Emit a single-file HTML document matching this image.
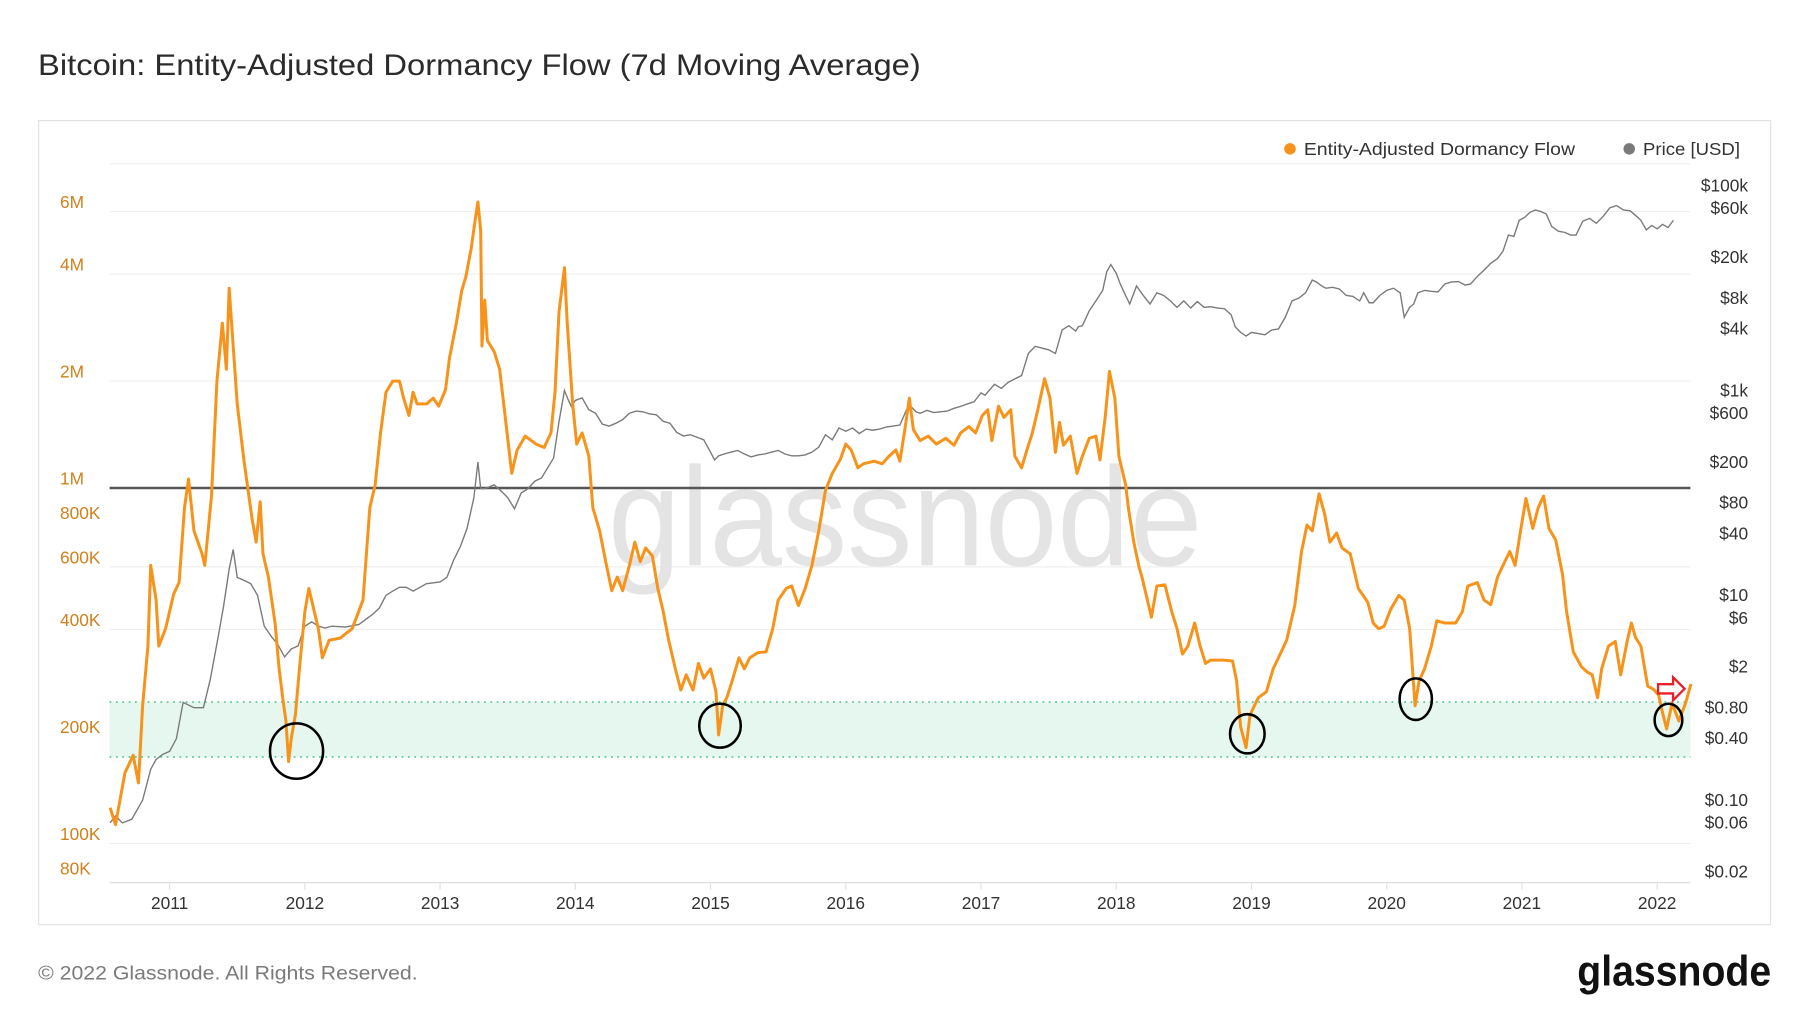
<!DOCTYPE html>
<html><head><meta charset="utf-8">
<style>
html,body{margin:0;padding:0;background:#fff;}
svg{display:block;font-family:"Liberation Sans",sans-serif;}
</style></head>
<body>
<svg id="chart" width="1800" height="1013" viewBox="0 0 1560 878" preserveAspectRatio="none" xmlns="http://www.w3.org/2000/svg">
<text x="33" y="65" font-size="25.5" fill="#2b2b2b" font-weight="500" textLength="765" lengthAdjust="spacingAndGlyphs">Bitcoin: Entity-Adjusted Dormancy Flow (7d Moving Average)</text>
<rect x="33.5" y="104.5" width="1501" height="697" fill="#fff" stroke="#e2e2e2"/>
<g id="grid"></g>
<rect id="band" fill="#e6f7ef"/>
<g id="bandlines"></g>
<text x="527" y="490" font-size="122" fill="#e4e4e4" textLength="515" lengthAdjust="spacingAndGlyphs">glassnode</text>
<line id="mline" stroke="#555" stroke-width="2.2"/>
<g id="xlabels"></g><g id="ylabels"></g><g id="rlabels"></g>
<path id="priceLine" fill="none" stroke="#7a7a7a" stroke-width="1.2"/>
<path id="flowLine" fill="none" stroke="#f7931a" stroke-width="2.6" stroke-linejoin="round"/>
<g fill="none" stroke="#000" stroke-width="2.2">
<ellipse cx="257" cy="651" rx="23" ry="24"/>
<ellipse cx="624" cy="629" rx="18" ry="19"/>
<ellipse cx="1081" cy="636" rx="15" ry="17"/>
<ellipse cx="1227" cy="606" rx="14" ry="18"/>
<ellipse cx="1446" cy="624" rx="12" ry="14"/>
</g>
<path d="M1437 593 L1450 593 L1450 587 L1460 597 L1450 607 L1450 601 L1437 601 Z" fill="none" stroke="#e8202a" stroke-width="2"/>
<g font-size="15" fill="#333">
<circle cx="1118" cy="129" r="5" fill="#f7931a"/>
<text x="1130" y="134.5" textLength="235" lengthAdjust="spacingAndGlyphs">Entity-Adjusted Dormancy Flow</text>
<circle cx="1412" cy="129" r="5" fill="#7a7a7a"/>
<text x="1424" y="134.5" textLength="84" lengthAdjust="spacingAndGlyphs">Price [USD]</text>
</g>
<text x="33" y="849" font-size="17" fill="#7a7a7a" textLength="329" lengthAdjust="spacingAndGlyphs">© 2022 Glassnode. All Rights Reserved.</text>
<text x="1367" y="854" font-size="37" fill="#111" font-weight="bold" textLength="168" lengthAdjust="spacingAndGlyphs">glassnode</text>
</svg>
<script>
const flowDates=[2010.56,2010.60,2010.67,2010.73,2010.77,2010.80,2010.84,2010.86,2010.90,2010.92,2010.97,2011.03,2011.07,2011.11,2011.14,2011.18,2011.24,2011.26,2011.31,2011.35,2011.39,2011.42,2011.44,2011.47,2011.50,2011.55,2011.61,2011.64,2011.67,2011.69,2011.73,2011.78,2011.81,2011.84,2011.86,2011.88,2011.90,2011.93,2011.96,2012.00,2012.03,2012.07,2012.10,2012.13,2012.18,2012.26,2012.35,2012.43,2012.48,2012.52,2012.56,2012.60,2012.65,2012.70,2012.73,2012.77,2012.80,2012.83,2012.90,2012.95,2012.99,2013.04,2013.07,2013.12,2013.16,2013.19,2013.23,2013.26,2013.28,2013.30,2013.31,2013.33,2013.35,2013.40,2013.44,2013.48,2013.53,2013.57,2013.63,2013.71,2013.77,2013.82,2013.85,2013.88,2013.92,2013.94,2013.98,2014.01,2014.05,2014.10,2014.13,2014.18,2014.23,2014.27,2014.31,2014.35,2014.40,2014.44,2014.48,2014.52,2014.57,2014.61,2014.65,2014.69,2014.74,2014.78,2014.82,2014.87,2014.91,2014.95,2015.00,2015.04,2015.06,2015.09,2015.12,2015.16,2015.21,2015.25,2015.29,2015.35,2015.41,2015.46,2015.50,2015.56,2015.60,2015.65,2015.70,2015.75,2015.80,2015.85,2015.90,2015.96,2016.00,2016.04,2016.09,2016.13,2016.21,2016.27,2016.32,2016.37,2016.40,2016.44,2016.47,2016.50,2016.55,2016.61,2016.67,2016.74,2016.80,2016.85,2016.91,2016.96,2017.01,2017.05,2017.08,2017.13,2017.17,2017.22,2017.25,2017.30,2017.34,2017.38,2017.42,2017.47,2017.51,2017.55,2017.58,2017.61,2017.66,2017.71,2017.75,2017.80,2017.85,2017.88,2017.92,2017.95,2017.99,2018.02,2018.07,2018.09,2018.13,2018.17,2018.19,2018.23,2018.26,2018.30,2018.36,2018.41,2018.45,2018.49,2018.53,2018.58,2018.62,2018.66,2018.70,2018.79,2018.86,2018.89,2018.92,2018.96,2018.99,2019.05,2019.11,2019.16,2019.20,2019.26,2019.32,2019.37,2019.41,2019.45,2019.50,2019.54,2019.58,2019.63,2019.67,2019.73,2019.79,2019.86,2019.90,2019.94,2019.98,2020.03,2020.09,2020.13,2020.17,2020.21,2020.24,2020.28,2020.33,2020.37,2020.43,2020.51,2020.56,2020.60,2020.67,2020.72,2020.77,2020.82,2020.86,2020.91,2020.95,2020.99,2021.03,2021.08,2021.12,2021.16,2021.20,2021.25,2021.30,2021.33,2021.38,2021.44,2021.48,2021.52,2021.56,2021.59,2021.64,2021.69,2021.73,2021.78,2021.81,2021.84,2021.88,2021.93,2021.97,2022.01,2022.04,2022.07,2022.11,2022.16,2022.21,2022.25];
const flowValues=[126,113,158,177,148,244,359,606,484,359,402,503,542,880,1060,758,653,606,950,2000,2910,2160,3650,2510,1725,1190,817,704,915,653,562,417,310,251,221,170,198,230,310,449,522,449,402,333,373,378,402,484,880,1020,1430,1860,2000,2000,1790,1600,1860,1725,1725,1790,1700,1890,2330,2910,3600,3930,4730,5710,6380,5300,2510,3380,2600,2420,2160,1600,1100,1280,1400,1330,1300,1430,1860,3140,4170,2910,1725,1330,1430,1230,880,758,606,514,562,514,606,704,620,678,644,522,449,373,310,270,298,270,321,292,310,267,202,244,257,287,333,310,333,344,346,402,484,522,530,467,522,606,758,985,1100,1205,1330,1280,1140,1170,1190,1170,1230,1280,1190,1490,1790,1460,1360,1400,1330,1380,1320,1430,1490,1430,1600,1660,1360,1700,1580,1660,1230,1140,1280,1430,1660,2030,1790,1260,1530,1320,1400,1100,1230,1380,1400,1200,1600,2130,1790,1230,1020,880,704,597,562,484,433,530,534,449,402,341,359,417,359,321,328,328,326,287,213,186,230,257,267,310,333,373,467,663,787,758,963,848,704,747,678,653,522,477,417,402,408,456,499,484,402,244,287,310,359,423,417,417,449,530,542,484,470,562,606,663,606,758,935,770,880,950,770,714,571,449,346,314,304,298,257,310,359,370,298,373,417,380,359,277,272,262,233,210,248,221,248,281];
const priceDates=[2010.56,2010.60,2010.65,2010.72,2010.80,2010.86,2010.90,2010.95,2011.00,2011.05,2011.10,2011.18,2011.25,2011.30,2011.36,2011.40,2011.44,2011.47,2011.50,2011.55,2011.60,2011.65,2011.70,2011.75,2011.80,2011.85,2011.90,2011.95,2012.00,2012.05,2012.10,2012.15,2012.20,2012.30,2012.40,2012.50,2012.55,2012.60,2012.65,2012.70,2012.75,2012.80,2012.90,2013.00,2013.05,2013.10,2013.15,2013.20,2013.25,2013.28,2013.30,2013.33,2013.40,2013.45,2013.50,2013.55,2013.60,2013.65,2013.70,2013.75,2013.80,2013.84,2013.88,2013.92,2013.95,2013.97,2014.00,2014.05,2014.10,2014.15,2014.20,2014.25,2014.30,2014.35,2014.40,2014.45,2014.50,2014.55,2014.60,2014.65,2014.70,2014.75,2014.80,2014.85,2014.90,2014.95,2015.00,2015.03,2015.06,2015.10,2015.15,2015.20,2015.25,2015.30,2015.35,2015.40,2015.45,2015.50,2015.55,2015.60,2015.65,2015.70,2015.75,2015.80,2015.85,2015.90,2015.95,2016.00,2016.05,2016.10,2016.15,2016.20,2016.25,2016.30,2016.35,2016.40,2016.45,2016.48,2016.52,2016.55,2016.60,2016.65,2016.70,2016.75,2016.80,2016.85,2016.90,2016.95,2017.00,2017.03,2017.06,2017.10,2017.15,2017.20,2017.25,2017.30,2017.35,2017.40,2017.45,2017.50,2017.55,2017.60,2017.65,2017.70,2017.72,2017.75,2017.80,2017.85,2017.90,2017.93,2017.96,2018.00,2018.03,2018.06,2018.10,2018.15,2018.20,2018.25,2018.30,2018.35,2018.40,2018.45,2018.50,2018.55,2018.60,2018.65,2018.70,2018.75,2018.80,2018.85,2018.88,2018.92,2018.96,2019.00,2019.05,2019.10,2019.15,2019.20,2019.25,2019.30,2019.35,2019.40,2019.45,2019.48,2019.52,2019.55,2019.60,2019.65,2019.70,2019.75,2019.80,2019.83,2019.87,2019.90,2019.95,2020.00,2020.05,2020.10,2020.13,2020.17,2020.20,2020.23,2020.28,2020.33,2020.38,2020.43,2020.48,2020.53,2020.58,2020.62,2020.67,2020.72,2020.77,2020.82,2020.86,2020.90,2020.94,2020.98,2021.02,2021.06,2021.10,2021.14,2021.18,2021.22,2021.27,2021.32,2021.36,2021.40,2021.45,2021.50,2021.55,2021.60,2021.65,2021.70,2021.75,2021.80,2021.85,2021.88,2021.92,2021.96,2022.00,2022.04,2022.08,2022.12,2022.16,2022.20,2022.25];
const priceValues=[0.06,0.07,0.06,0.065,0.1,0.2,0.25,0.28,0.3,0.4,0.9,0.8,0.8,1.5,4,8,18,28,15,14,13,10,5,4,3.3,2.5,3,3.2,5,5.5,5,4.8,5,4.9,5.2,6.5,7.5,10,11,12,12,11,13,13.5,15,22,30,45,90,200,110,110,120,105,90,70,100,110,130,140,180,220,500,1000,800,700,800,850,650,600,470,450,480,520,600,630,620,590,580,500,480,390,360,370,350,330,250,210,230,240,250,260,240,225,235,240,250,260,240,230,230,235,250,280,370,330,430,400,430,380,420,410,420,440,450,460,650,700,620,600,640,610,620,630,670,700,740,780,950,900,1000,1150,1050,1200,1300,1400,2300,2700,2600,2500,2300,3900,4300,3800,4200,4300,6000,7500,9500,14500,17000,14000,11000,9000,7000,10500,8500,7000,9000,8500,7500,6500,7500,6400,7400,6500,6600,6400,6300,5500,4200,3700,3400,3700,3600,3500,3900,4000,5200,7500,8000,9000,12000,11500,10500,10000,10200,9800,8500,8300,7500,9000,7200,7200,8500,9500,10000,9000,5200,6500,7000,9000,9500,9300,9200,11000,11500,11600,10700,11000,13000,15000,17500,19500,23000,33000,32000,46000,49000,55000,58000,56000,53000,40000,36000,35000,33000,33000,45000,48000,43000,50000,61000,64000,58000,57000,50000,46000,37000,41000,38000,42000,39000,46000];
const xTicks=[2011,2012,2013,2014,2015,2016,2017,2018,2019,2020,2021,2022];
const leftTicks=[6e6,4e6,2e6,1e6,8e5,6e5,4e5,2e5,1e5,8e4];
const leftTickLabels=["6M","4M","2M","1M","800K","600K","400K","200K","100K","80K"];
const rightTicks=[100000,60000,20000,8000,4000,1000,600,200,80,40,10,6,2,0.8,0.4,0.1,0.06,0.02];
const rightTickLabels=["$100k","$60k","$20k","$8k","$4k","$1k","$600","$200","$80","$40","$10","$6","$2","$0.80","$0.40","$0.10","$0.06","$0.02"];
const gridValues=[6e6,4e6,2e6,6e5,4e5,2e5,1e5];
const bandTop=250000, bandBottom=175000, thresholdLine=1e6;

const NS="http://www.w3.org/2000/svg";
const PL=95,PR=1465,PT=142,PB=765;
function xs(t){return 147+117.2*(t-2011);}
function yl(v){return 423-308*Math.log10(v/1e6);}
function yr(p){return 161+88.75*(5-Math.log10(p));}
function mk(tag,attrs,parent,text){const e=document.createElementNS(NS,tag);for(const k in attrs)e.setAttribute(k,attrs[k]);if(text!==undefined)e.textContent=text;parent.appendChild(e);return e;}

const grid=document.getElementById('grid');
[PT].concat(gridValues.map(yl)).forEach((y)=>{
  const l=mk('line',{x1:PL,x2:PR,y1:y,y2:y,stroke:'#efefef','stroke-width':1},grid);
  
  
});
const axis=mk('line',{x1:PL,x2:PR,y1:PB,y2:PB,stroke:'#e0e0e0','stroke-width':1},grid);



const band=document.getElementById('band');
band.setAttribute('x',PL);band.setAttribute('width',PR-PL);
band.setAttribute('y',yl(bandTop));band.setAttribute('height',yl(bandBottom)-yl(bandTop));
const bl=document.getElementById('bandlines');
[bandTop,bandBottom].forEach(v=>{
  const l=mk('line',{x1:PL,x2:PR,y1:yl(v),y2:yl(v),stroke:'#3cc48a','stroke-width':1.3,'stroke-dasharray':'1.5 4'},bl);
  
  
});
const ml=document.getElementById('mline');
ml.setAttribute('x1',PL);ml.setAttribute('x2',PR);ml.setAttribute('y1',yl(thresholdLine));ml.setAttribute('y2',yl(thresholdLine));

const xl=document.getElementById('xlabels');
xTicks.forEach(t=>{
  const e=mk('text',{x:xs(t),y:788,'font-size':15,fill:'#333','text-anchor':'middle'},xl,String(t));
  
  
  const tk=mk('line',{x1:xs(t),x2:xs(t),y1:PB,y2:PB+6,stroke:'#e0e0e0'},xl);
  
  
});
const ylg=document.getElementById('ylabels');
leftTicks.forEach((v,i)=>{
  const e=mk('text',{x:52,y:yl(v)-3,'font-size':15,fill:'#d2801b'},ylg,leftTickLabels[i]);
  
  
});
const rl=document.getElementById('rlabels');
rightTicks.forEach((p,i)=>{
  const e=mk('text',{x:1515,y:yr(p)+5,'font-size':15,fill:'#333','text-anchor':'end'},rl,rightTickLabels[i]);
  
  
});

document.getElementById('flowLine').setAttribute('d',flowDates.map((t,i)=>(i?'L':'M')+xs(t).toFixed(1)+' '+yl(flowValues[i]*1000).toFixed(1)).join(' '));
document.getElementById('priceLine').setAttribute('d',priceDates.map((t,i)=>(i?'L':'M')+xs(t).toFixed(1)+' '+yr(priceValues[i]).toFixed(1)).join(' '));
</script>
</body></html>
